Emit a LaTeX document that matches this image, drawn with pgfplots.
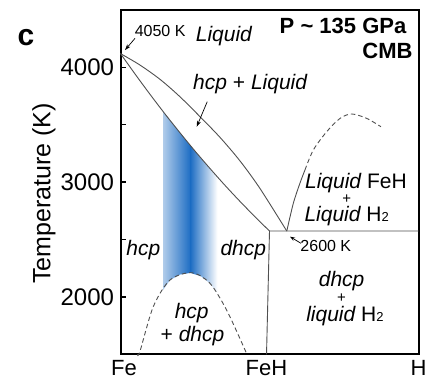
\documentclass[border=0pt]{standalone}
\usepackage{fontspec}
\setmainfont{Liberation Sans}
\usepackage{pgfplots}
\pgfplotsset{compat=1.18}
\usetikzlibrary{arrows.meta}
\definecolor{bandblue}{RGB}{28,108,195}
\definecolor{ln}{RGB}{80,80,80}
\newcommand{\sub}[1]{{\fontsize{13}{13}\selectfont #1}}
\begin{document}
\begin{tikzpicture}
\useasboundingbox (-120.5pt,-26.7pt) rectangle (309.5pt,354.3pt);
\begin{axis}[
  scale only axis, width=298pt, height=344.3pt,
  xmin=0, xmax=1, ymin=1500, ymax=4500,
  axis line style={line width=2pt, black},
  tick pos=left,
  xtick={0.012,0.49,1}, xticklabels={Fe,FeH,H},
  xtick style={draw=none},
  ytick={2000,3000,4000}, yticklabels={2000,3000,4000},
  minor ytick={2500,3500},
  tick align=inside,
  major tick length=5pt, minor tick length=5pt,
  ytick style={line width=1.4pt, black},
  yticklabel style={font=\fontsize{24}{24}\selectfont, xshift=-3pt},
  xticklabel style={font=\fontsize{22}{22}\selectfont, inner sep=0pt, yshift=-6pt},
  clip=false,
]
% blue band, left half
\addplot[draw=none, left color=bandblue!35, right color=bandblue]
  coordinates {(0.143,2060) (0.143,3616) (0.2,3429) (0.236,3315)
               (0.236,2210) (0.2,2195) (0.166,2147)} --cycle;
% blue band, right half
\addplot[draw=none, left color=bandblue, right color=white]
  coordinates {(0.234,3321) (0.25,3271) (0.3,3120) (0.325,3046)
               (0.325,2030) (0.300,2119) (0.27,2180) (0.234,2210)} --cycle;
% upper liquidus
\addplot[ln, line width=0.9pt, smooth] coordinates {
  (0,4120) (0.065,4021) (0.134,3893) (0.2,3743) (0.267,3570) (0.334,3390) (0.401,3185) (0.468,2945) (0.558,2574)};
% solidus
\addplot[ln, line width=0.9pt, smooth] coordinates {
  (0,4120) (0.05,3938) (0.1,3762) (0.15,3592) (0.2,3429) (0.25,3271) (0.3,3120) (0.35,2974) (0.4,2835) (0.45,2702) (0.5,2574)};
% FeH line and eutectic
\addplot[ln, line width=0.9pt] coordinates {(0.49,1500) (0.5,2574) (1,2574)};
% right liquidus solid
\addplot[ln, line width=0.9pt, smooth] coordinates {(0.558,2574) (0.580,2816) (0.602,2990) (0.619,3106)};
% right liquidus dashed
\addplot[ln, line width=0.9pt, smooth, dash pattern=on 4.5pt off 3pt] coordinates {
  (0.619,3106) (0.647,3280) (0.692,3440) (0.737,3556) (0.776,3594) (0.826,3556) (0.874,3483)};
% dome dashed
\addplot[ln, line width=0.9pt, smooth, dash pattern=on 4.5pt off 3pt] coordinates {
  (0.057,1500) (0.065,1523) (0.110,1915) (0.166,2147) (0.239,2211) (0.300,2119) (0.356,1886) (0.418,1537) (0.423,1500)};
% arrows
\addplot[black, line width=0.7pt, -{Stealth[length=6pt,width=4pt]}] coordinates {(0.291,3701) (0.2557,3483)};
\addplot[black, line width=0.7pt, -{Stealth[length=6pt,width=4pt]}] coordinates {(0.0487,4253) (0.0151,4151)};
\addplot[black, line width=0.7pt, -{Stealth[length=5pt,width=3.5pt]}] coordinates {(0.6057,2467) (0.5688,2525)};
% texts
\node[anchor=base, font=\fontsize{16}{16}\selectfont] at (axis cs:0.133,4267) {4050 K};
\node[anchor=base, font=\fontsize{21}{21}\selectfont\itshape] at (axis cs:0.347,4224) {Liquid};
\node[anchor=base east, font=\fontsize{22}{22}\selectfont\bfseries] at (axis cs:0.971,4297) {P \textasciitilde{} 135 GPa};
\node[anchor=base east, font=\fontsize{22}{22}\selectfont\bfseries] at (axis cs:0.992,4079) {CMB};
\node[anchor=base, font=\fontsize{21}{21}\selectfont] at (axis cs:0.435,3811) {\itshape hcp \upshape+ \itshape Liquid};
\node[anchor=base, font=\fontsize{21}{21}\selectfont\itshape] at (axis cs:0.0765,2365) {hcp};
\node[anchor=base, font=\fontsize{21}{21}\selectfont\itshape] at (axis cs:0.412,2365) {dhcp};
\node[anchor=base, font=\fontsize{21}{21}\selectfont\itshape] at (axis cs:0.239,1814) {hcp};
\node[anchor=base, font=\fontsize{21}{21}\selectfont] at (axis cs:0.2416,1610) {+ \itshape dhcp};
\node[anchor=base, font=\fontsize{21}{21}\selectfont] at (axis cs:0.79,2946) {\itshape Liquid\upshape{} FeH};
\node[inner sep=0pt, font=\fontsize{15}{15}\selectfont] at (axis cs:0.759,2853) {+};
\node[anchor=base, font=\fontsize{21}{21}\selectfont] at (axis cs:0.759,2655) {\itshape Liquid\upshape{} H\sub{2}};
\node[anchor=base, font=\fontsize{16}{16}\selectfont] at (axis cs:0.689,2394) {2600 K};
\node[anchor=base, font=\fontsize{21}{21}\selectfont\itshape] at (axis cs:0.742,2089) {dhcp};
\node[inner sep=0pt, font=\fontsize{15}{15}\selectfont] at (axis cs:0.742,1990) {+};
\node[anchor=base, font=\fontsize{21}{21}\selectfont] at (axis cs:0.753,1784) {\itshape liquid\upshape{} H\sub{2}};
\end{axis}
\node[font=\fontsize{30}{30}\selectfont\bfseries] at (-94.5pt,316.8pt) {c};
\node[rotate=90, anchor=base, font=\fontsize{25}{25}\selectfont] at (-70pt,160.8pt) {Temperature (K)};
\end{tikzpicture}
\end{document}
